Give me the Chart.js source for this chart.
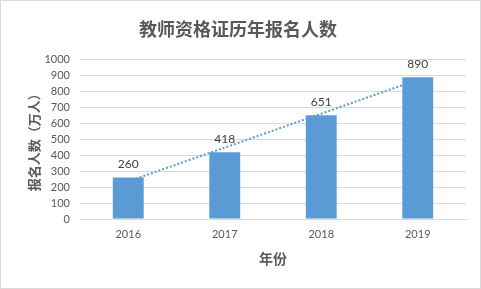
<!DOCTYPE html>
<html>
<head>
<meta charset="utf-8">
<script src="https://cdn.jsdelivr.net/npm/chart.js@4/dist/chart.umd.min.js"></script>
<style>
html,body{margin:0;padding:0;background:#fff;}
#wrap{width:481px;height:289px;position:relative;}
</style>
</head>
<body>
<div id="wrap"><canvas id="c" width="481" height="289"></canvas></div>
<script>
const categories = ['2016', '2017', '2018', '2019'];
const applicants = [260, 418, 651, 890];
// dotted linear trendline
const trendValues = [236, 448, 661, 873];
const yTicks = [0, 100, 200, 300, 400, 500, 600, 700, 800, 900, 1000];

const chartTitle = '教师资格证历年报名人数';
const yTitle = '报名人数（万人）';
const xTitle = '年份';

const cjk = '"Noto Sans CJK SC", "Microsoft YaHei", sans-serif';
const num = 'Lato, "Liberation Sans", sans-serif';

const borderPlugin = {
  id: 'outerBorder',
  afterDraw(chart) {
    const ctx = chart.ctx;
    ctx.save();
    ctx.strokeStyle = '#d9d9d9';
    ctx.lineWidth = 1;
    ctx.strokeRect(0.5, 0.5, chart.width - 1, chart.height - 1);
    ctx.restore();
  }
};

const labelPlugin = {
  id: 'barLabels',
  afterDatasetsDraw(chart) {
    const meta = chart.getDatasetMeta(0);
    const ctx = chart.ctx;
    ctx.save();
    ctx.fillStyle = '#404040';
    ctx.font = '12px ' + num;
    ctx.textAlign = 'center';
    ctx.textBaseline = 'middle';
    meta.data.forEach((bar, i) => {
      ctx.fillText(String(applicants[i]), bar.x, bar.y - 13);
    });
    ctx.restore();
  }
};

new Chart(document.getElementById('c'), {
  data: {
    labels: categories,
    datasets: [
      {
        type: 'bar',
        data: applicants,
        backgroundColor: '#5b9bd5',
        categoryPercentage: 1,
        barPercentage: 0.32,
        order: 1
      },
      {
        type: 'line',
        data: trendValues,
        borderColor: '#5b9bd5',
        borderWidth: 2,
        borderDash: [2, 2],
        pointRadius: 0,
        fill: false,
        order: 2
      }
    ]
  },
  options: {
    responsive: false,
    animation: false,
    layout: { padding: { left: 10, right: 15, top: 10, bottom: 10 } },
    plugins: {
      legend: { display: false },
      tooltip: { enabled: false },
      title: {
        display: true,
        text: chartTitle,
        color: '#595959',
        font: { family: cjk, size: 18, weight: 'bold' },
        padding: { top: 8, bottom: 20 }
      }
    },
    scales: {
      x: {
        grid: { display: false, drawTicks: false },
        border: { display: true, color: '#d9d9d9' },
        ticks: { color: '#595959', font: { family: num, size: 11 }, padding: 9 },
        title: {
          display: true, text: xTitle, color: '#595959',
          font: { family: cjk, size: 14, weight: 'bold' },
          padding: { top: 4, bottom: 12 }
        },
        afterFit(s) { s.height = 60; }
      },
      y: {
        min: 0, max: 1000,
        afterBuildTicks(s) { s.ticks = yTicks.map(v => ({ value: v })); },
        grid: { color: '#d9d9d9', drawTicks: false },
        border: { display: false },
        ticks: {
          color: '#595959', font: { family: num, size: 11 }, padding: 10,
          autoSkip: false,
          callback: (v) => String(v)
        },
        title: {
          display: true, text: yTitle, color: '#595959',
          font: { family: cjk, size: 13, weight: 'bold' },
          padding: { top: 16, bottom: 0 }
        },
        afterFit(s) { s.width = 70; }
      }
    }
  },
  plugins: [borderPlugin, labelPlugin]
});
</script>
</body>
</html>
